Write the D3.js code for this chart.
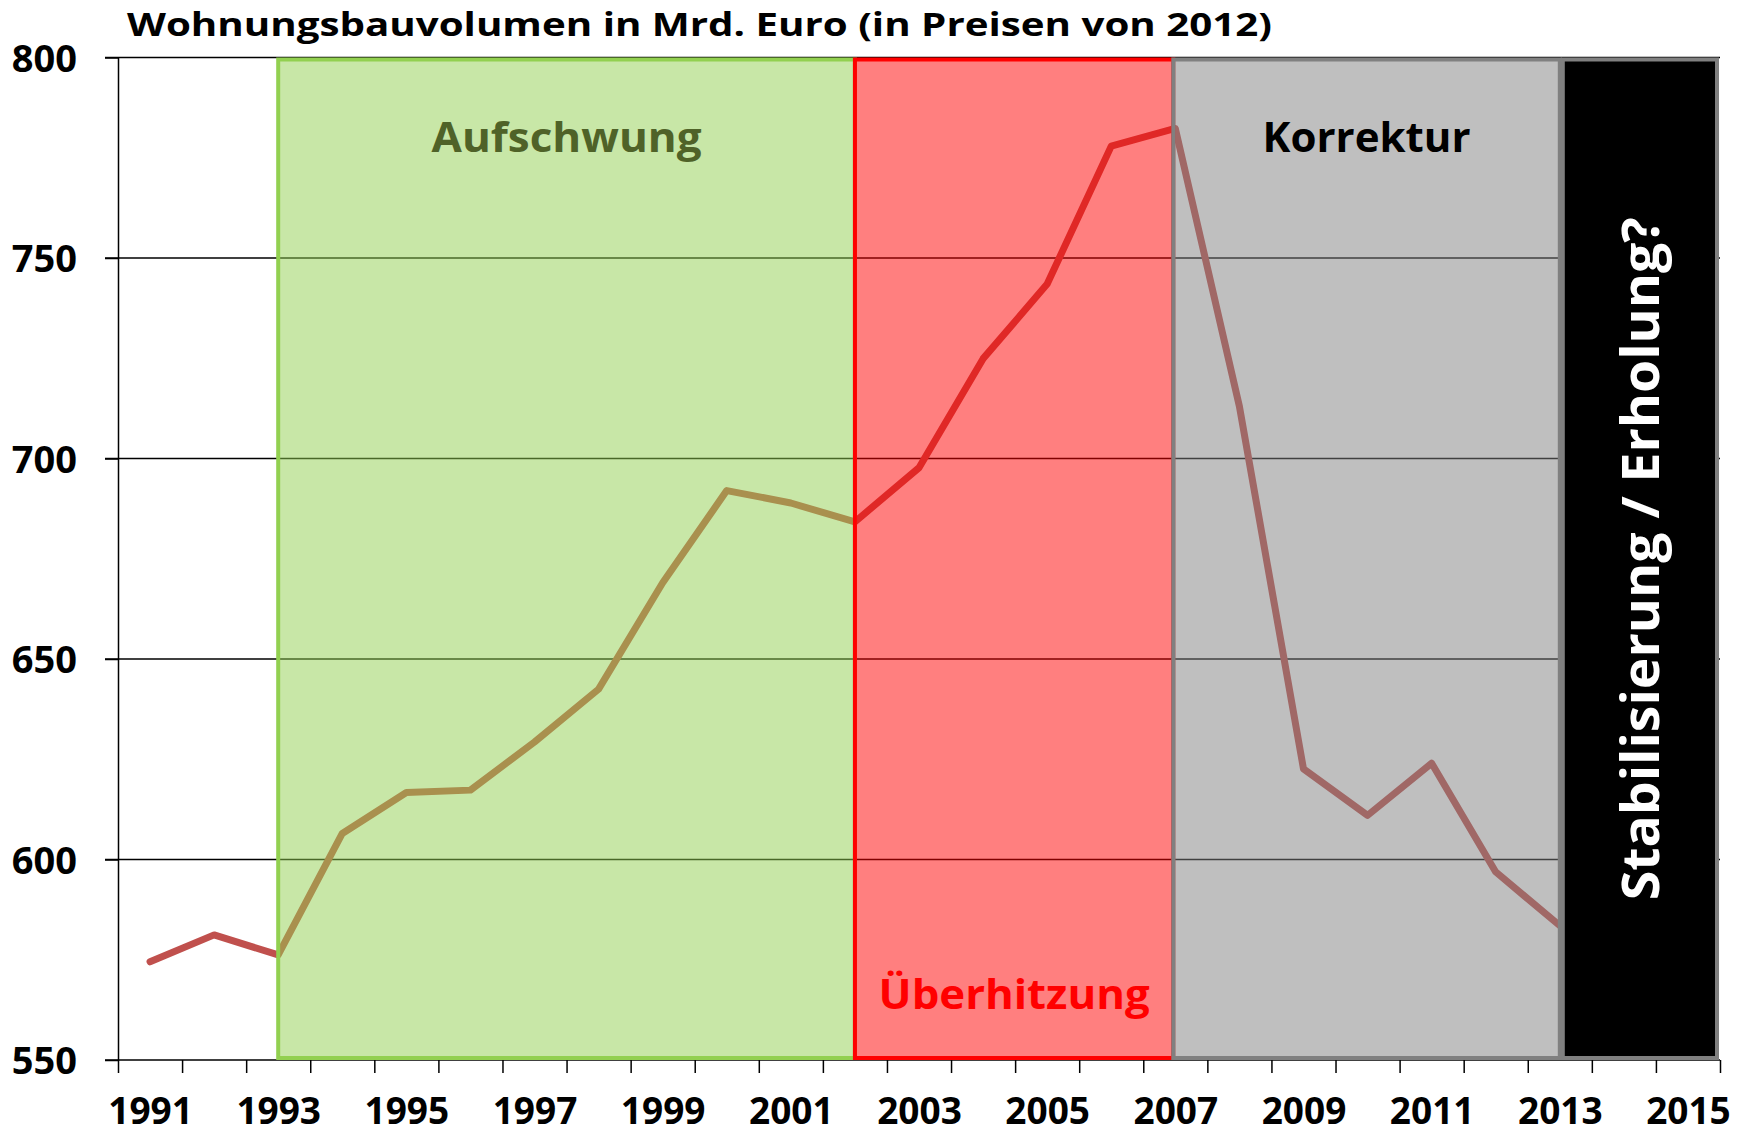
<!DOCTYPE html>
<html lang="de">
<head>
<meta charset="utf-8">
<title>Wohnungsbauvolumen in Mrd. Euro</title>
<script src="https://cdn.jsdelivr.net/npm/d3@7/dist/d3.min.js"></script>
<style>
  html, body { margin: 0; padding: 0; background: #fff; }
  svg { display: block; font-family: 'Open Sans', 'DejaVu Sans', sans-serif; font-weight: 700; }
</style>
</head>
<body>
<div id="chart"></div>
<script>
// Wohnungsbauvolumen 1991–2013, with the four market phases as shaded bands.

const years  = [1991, 1992, 1993, 1994, 1995, 1996, 1997, 1998, 1999, 2000, 2001, 2002,
                2003, 2004, 2005, 2006, 2007, 2008, 2009, 2010, 2011, 2012, 2013];
const volume = [574.5, 581.2, 576.2, 606.5, 616.7, 617.3, 629.3, 642.5, 669.0, 692.0, 688.9, 684.2,
                697.7, 724.9, 743.5, 777.9, 782.3, 713.0, 622.6, 611.0, 624.0, 596.9, 583.5];

const yTickValues = [550, 600, 650, 700, 750, 800];
const xTickLabels = [1991, 1993, 1995, 1997, 1999, 2001, 2003, 2005, 2007, 2009, 2011, 2013, 2015];

// Phases: shaded from the start year's point to the end year's point.
const phaseNames = ['Aufschwung', 'Überhitzung', 'Korrektur', 'Stabilisierung / Erholung?'];
const phaseStart = [1993, 2002, 2007, 2013];
const phaseEnd   = [2002, 2007, 2013, 2015.5];

const title = 'Wohnungsbauvolumen in Mrd. Euro (in Preisen von 2012)';

// ---- styling -------------------------------------------------------------
const phaseStyle = [
  { fill: '#92d050', fillOpacity: 0.5, stroke: '#92d050', text: '#4f6228', labelPos: 'top',    len: 270, size: 42 },
  { fill: '#ff0000', fillOpacity: 0.5, stroke: '#ff0000', text: '#ff0000', labelPos: 'bottom', len: 271, size: 42 },
  { fill: '#808080', fillOpacity: 0.5, stroke: '#808080', text: '#000000', labelPos: 'top',    len: 208, size: 42 },
  { fill: '#000000', fillOpacity: 1,   stroke: '#808080', text: '#ffffff', labelPos: 'vertical', len: 683, size: 52 },
];

const W = 1746, H = 1135;
const margin = { top: 57.5, right: 26, bottom: 75, left: 118 };

const svg = d3.select('#chart').append('svg')
  .attr('width', W).attr('height', H)
  .attr('viewBox', `0 0 ${W} ${H}`);

svg.append('rect').attr('width', W).attr('height', H).attr('fill', '#fff');

// Band edges fall on half years, so each year's point sits mid-band.
const x = d3.scaleLinear().domain([1990.5, 2015.5]).range([margin.left, W - margin.right]);
const y = d3.scaleLinear().domain([550, 800]).range([H - margin.bottom, margin.top]);

// Gridlines (drawn first; the translucent phase boxes darken them)
svg.append('g')
  .selectAll('line')
  .data(yTickValues.filter(v => v > 550))
  .join('line')
  .attr('x1', margin.left - 13).attr('x2', W - margin.right)
  .attr('y1', d => y(d)).attr('y2', d => y(d))
  .attr('stroke', '#000').attr('stroke-width', 1.5);

// Series line, under the phase boxes so it takes on each phase's tint
const data = years.map((yr, i) => ({ year: yr, value: volume[i] }));
svg.append('path')
  .datum(data)
  .attr('fill', 'none')
  .attr('stroke', '#c0504d')
  .attr('stroke-width', 7)
  .attr('stroke-linejoin', 'round')
  .attr('stroke-linecap', 'round')
  .attr('d', d3.line().x(d => x(d.year)).y(d => y(d.value)));

// X axis: tick marks on band edges, labels on odd years
const xAxisG = svg.append('g').attr('transform', `translate(0,${y(550)})`);
xAxisG.call(d3.axisBottom(x)
  .tickValues(d3.range(1990.5, 2016, 1))
  .tickSize(13).tickSizeOuter(0)
  .tickFormat(''));
xAxisG.select('.domain').attr('d', `M${margin.left - 13},0H${W - margin.right}`);

const xLabelG = svg.append('g').attr('transform', `translate(0,${y(550)})`);
xLabelG.call(d3.axisBottom(x).tickValues(xTickLabels).tickSize(0).tickFormat(d3.format('d')));
xLabelG.select('.domain').remove();
xLabelG.selectAll('text')
  .attr('y', 64).attr('dy', null)
  .attr('font-size', 37).attr('font-weight', 700).attr('fill', '#000')
  .attr('font-family', "'Open Sans', sans-serif");

// Y axis
const yAxisG = svg.append('g').attr('transform', `translate(${margin.left},0)`);
yAxisG.call(d3.axisLeft(y).tickValues(yTickValues).tickSize(13).tickSizeOuter(0).tickPadding(28));
yAxisG.selectAll('text')
  .attr('font-size', 38).attr('font-weight', 700).attr('fill', '#000')
  .attr('font-family', "'Open Sans', sans-serif")
  .attr('dy', '0.36em');

svg.selectAll('.domain, .tick line').attr('stroke', '#000').attr('stroke-width', 1.5);

// Phase boxes
const boxTop = y(800) + 2, boxBottom = y(550) - 2;
const phases = phaseNames.map((name, i) => {
  const x0 = x(phaseStart[i]) + (i === 3 ? 3 : i === 2 ? -2 : 0);
  const x1 = x(phaseEnd[i])   + (i === 3 ? -3 : i === 1 ? -2 : 0);
  return { name, x0, x1, style: phaseStyle[i] };
});

const gPhase = svg.append('g');
gPhase.selectAll('rect')
  .data(phases)
  .join('rect')
  .attr('x', d => d.x0).attr('y', boxTop)
  .attr('width', d => d.x1 - d.x0).attr('height', boxBottom - boxTop)
  .attr('fill', d => d.style.fill).attr('fill-opacity', d => d.style.fillOpacity)
  .attr('stroke', d => d.style.stroke).attr('stroke-width', 4);

gPhase.selectAll('text')
  .data(phases)
  .join('text')
  .attr('fill', d => d.style.text)
  .attr('font-size', d => d.style.size)
  .attr('text-anchor', 'middle')
  .attr('textLength', d => d.style.len)
  .attr('lengthAdjust', 'spacingAndGlyphs')
  .attr('transform', d => {
    const cx = (d.x0 + d.x1) / 2;
    if (d.style.labelPos === 'top')    return `translate(${cx},${boxTop + 92})`;
    if (d.style.labelPos === 'bottom') return `translate(${cx},${boxBottom - 49})`;
    return `translate(${cx + 19},${(boxTop + boxBottom) / 2}) rotate(-90)`;
  })
  .text(d => d.name);

// Title
svg.append('text')
  .attr('x', 127).attr('y', 36)
  .attr('font-size', 33)
  .attr('fill', '#000')
  .attr('textLength', 1145)
  .attr('lengthAdjust', 'spacingAndGlyphs')
  .text(title);
</script>
</body>
</html>
